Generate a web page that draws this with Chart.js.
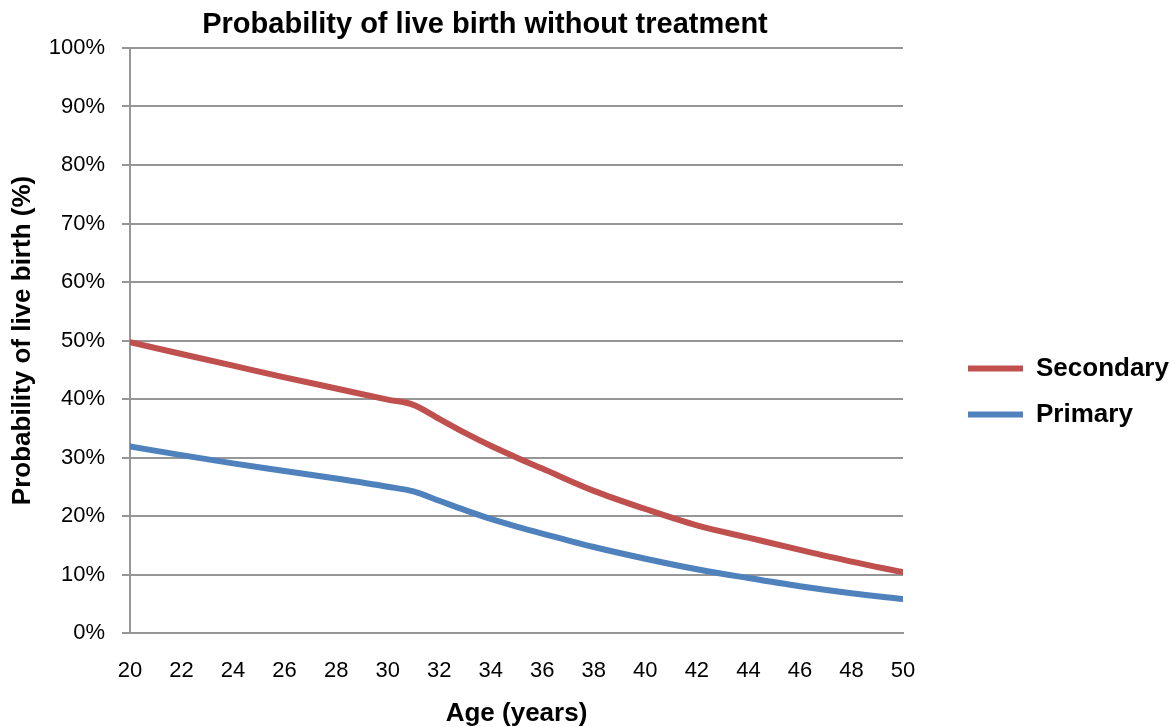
<!DOCTYPE html>
<html>
<head>
<meta charset="utf-8">
<title>Probability of live birth without treatment</title>
<script src="https://cdn.jsdelivr.net/npm/chart.js@4.4.1/dist/chart.umd.min.js"></script>
<style>
  body { margin: 0; background: #fff; }
  #wrap { width: 1170px; height: 727px; }
</style>
</head>
<body>
<div id="wrap"><canvas id="lineChart" width="1170" height="727"></canvas></div>
<script>
// values (age in years, probability in %)
var chartTitle = "Probability of live birth without treatment";
var ages = [20, 22, 24, 26, 28, 30, 31, 32, 33, 34, 35, 36, 38, 40, 42, 44, 46, 48, 50];
var secondary = [49.7, 47.7, 45.7, 43.7, 41.8, 39.9, 39.0, 36.6, 34.2, 32.0, 30.0, 28.1, 24.3, 21.2, 18.4, 16.3, 14.2, 12.2, 10.4];
var primary = [31.9, 30.4, 29.0, 27.7, 26.4, 25.0, 24.2, 22.6, 21.0, 19.5, 18.2, 17.0, 14.7, 12.7, 10.9, 9.4, 8.0, 6.8, 5.8];
var yTicks = [0, 10, 20, 30, 40, 50, 60, 70, 80, 90, 100];

function toPoints(xs, ys) {
    var pts = [];
    for (var i = 0; i < xs.length; i++) {
        pts.push({ x: xs[i], y: ys[i] });
    }
    return pts;
}

Chart.defaults.font.family = '"Liberation Sans", Arial, sans-serif';
Chart.defaults.color = "#000";

// title is drawn by hand so it can sit left of the canvas centre
var titlePlugin = {
    id: "chartTitle",
    afterDraw: function(chart) {
        var ctx = chart.ctx;
        ctx.save();
        ctx.font = 'bold 29px "Liberation Sans", Arial, sans-serif';
        ctx.fillStyle = "#000";
        ctx.textAlign = "center";
        ctx.textBaseline = "middle";
        ctx.fillText(chartTitle, 485, 25);
        ctx.restore();
    }
};

var gridColor = "#969696";

var data = {
    datasets: [{
        label: "Secondary",
        data: toPoints(ages, secondary),
        borderColor: "#C0504D",
        backgroundColor: "#C0504D",
        borderWidth: 6,
        borderCapStyle: "round",
        pointRadius: 0,
        cubicInterpolationMode: "monotone",
        fill: false
    },
    {
        label: "Primary",
        data: toPoints(ages, primary),
        borderColor: "#4F81BD",
        backgroundColor: "#4F81BD",
        borderWidth: 6,
        borderCapStyle: "round",
        pointRadius: 0,
        cubicInterpolationMode: "monotone",
        fill: false
    }]
};

var options = {
    responsive: false,
    animation: false,
    devicePixelRatio: 1,
    layout: { padding: { top: 48, left: 0, right: 0, bottom: 0 } },
    plugins: {
        title: { display: false },
        tooltip: { enabled: false },
        legend: {
            display: true,
            position: "right",
            maxWidth: 222,
            title: { display: true, text: "", padding: 0, font: { size: 8, lineHeight: 1 } },
            labels: {
                usePointStyle: true,
                pointStyle: "line",
                pointStyleWidth: 55,
                padding: 20,
                color: "#000",
                font: { size: 26, weight: "bold" }
            }
        }
    },
    scales: {
        x: {
            type: "linear",
            position: "bottom",
            min: 20,
            max: 50,
            grid: { display: false, drawTicks: false },
            border: { display: true, color: gridColor, width: 2 },
            ticks: {
                stepSize: 2,
                autoSkip: false,
                maxRotation: 0,
                padding: 25,
                color: "#000",
                font: { size: 22 }
            },
            title: {
                display: true,
                text: "Age (years)",
                color: "#000",
                font: { size: 26, weight: "bold", lineHeight: 1 },
                padding: { top: 0, bottom: 0 }
            },
            afterFit: function(scale) { scale.height = 94; }
        },
        y: {
            min: 0,
            max: 100,
            afterBuildTicks: function(scale) {
                scale.ticks = yTicks.map(function(v) { return { value: v }; });
            },
            grid: { color: gridColor, lineWidth: 2, tickLength: 8 },
            border: { display: true, color: gridColor, width: 2 },
            ticks: {
                padding: 17,
                color: "#000",
                font: { size: 22 },
                callback: function(v) { return v + "%"; }
            },
            title: {
                display: true,
                text: "Probability of live birth (%)",
                color: "#000",
                font: { size: 26, weight: "bold", lineHeight: 1 },
                padding: { top: 10, bottom: 0 }
            },
            afterFit: function(scale) { scale.width = 130; }
        },
        spacer: {
            type: "linear",
            position: "right",
            display: true,
            grid: { display: false, drawTicks: false },
            border: { display: false },
            ticks: { display: false },
            afterFit: function(scale) { scale.width = 45; }
        }
    }
};

var ctx = document.getElementById("lineChart");
var chart = new Chart(ctx, {
    type: "line",
    data: data,
    options: options,
    plugins: [titlePlugin]
});
</script>
</body>
</html>
